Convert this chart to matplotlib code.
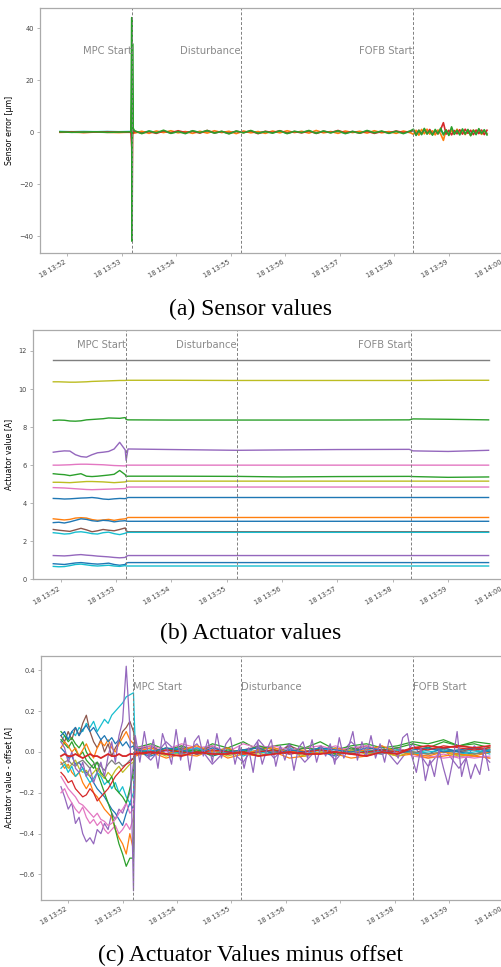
import numpy as np
import pandas as pd
import matplotlib
matplotlib.use("Agg")
import matplotlib.pyplot as plt
import matplotlib.dates as mdates

# time base: seconds after 18 13:51:00
base = pd.Timestamp("2021-06-18 13:51:00")
event_names = ["MPC Start", "Disturbance", "FOFB Start"]
event_sec = [131, 251, 440]

# ---------------- (a) sensor error [um] ----------------
sensor_sec = np.concatenate([np.arange(52, 131, 13), [131.0, 131.4, 131.8, 132.5],
                             np.arange(134, 440, 8), np.arange(441, 525, 3)])

sensor_blue = [0.2, 0.1, 0.2, 0.1, 0.2, 0.1, 0.2,
               2, -5, 1, 0.5,
               0.2, -0.2, 0.3, -0.1, 0.2, -0.3, 0.1, -0.2, 0.3, -0.1, 0.2, -0.2, 0.1, -0.3, 0.2, -0.1, 0.3, -0.2, 0.1, -0.2,
               0.2, -0.3, 0.1, -0.1, 0.3, -0.2, 0.2, -0.1, 0.1, -0.3, 0.2, -0.2, 0.3, -0.1, 0.1, -0.2, 0.2, -0.3, 0.1,
               0.6, -0.7, 0.5, -0.5, 0.8, -0.4, 0.4, -0.7, 0.5, -0.5, 0.7, -0.6, 0.4, -0.8, 0.7, -0.4, 0.5, -0.6, 0.7, -0.5,
               0.4, -0.7, 0.6, -0.5, 0.5, -0.7, 0.4, -0.5]
sensor_orange = [-0.1, 0.0, -0.2, 0.0, -0.1, -0.2, 0.0,
                 10, -15, 5, 0.3,
                 -0.4, 0.3, -0.5, 0.4, -0.2, 0.5, -0.3, 0.2, -0.5, 0.3, -0.4, 0.5, -0.2, 0.3, -0.6, 0.4, -0.3, 0.2, -0.5, 0.4,
                 -0.3, 0.5, -0.2, 0.3, -0.4, 0.6, -0.3, 0.2, -0.5, 0.4, -0.2, 0.3, -0.4, 0.5, -0.3, 0.2, -0.5, 0.4, -0.3,
                 -0.9, 0.7, -1.2, 1.0, -0.7, 1.1, -0.8, 0.5, -1.1, 0.8, -0.7, -3.2, 0.9, -1.0, 0.6, -0.8, 1.1, -0.5, 0.8, -1.0,
                 0.7, -1.3, 0.8, -0.6, 1.0, -0.9, 0.5, -0.7]
sensor_red = [0.0, 0.1, -0.1, 0.0, 0.1, 0.0, -0.1,
              -6, -28, 4, -0.5,
              0.3, -0.4, 0.2, -0.5, 0.4, -0.3, 0.5, -0.2, 0.3, -0.4, 0.6, -0.3, 0.2, -0.5, 0.3, -0.2, 0.4, -0.6, 0.3, -0.2,
              0.5, -0.4, 0.2, -0.3, 0.4, -0.5, 0.3, -0.2, 0.6, -0.3, 0.2, -0.4, 0.3, -0.5, 0.2, -0.3, 0.4, -0.2, 0.3,
              0.8, -1.1, 0.7, -0.8, 1.1, -0.6, 1.0, -0.9, 0.5, -0.7, 1.0, 3.6, -0.8, 0.7, -1.1, 0.6, -0.7, 0.9, -0.8, 1.1,
              -0.5, 0.7, -1.0, 0.8, -0.6, 0.8, -1.0, 0.7]
sensor_green = [0.1, -0.1, 0.0, 0.1, -0.1, 0.0, 0.1,
                44, -42, 34, 1.5,
                0.5, -0.6, 0.4, -0.3, 0.7, -0.5, 0.2, -0.6, 0.5, -0.2, 0.6, -0.4, 0.3, -0.7, 0.4, -0.3, 0.6, -0.5, 0.2, -0.4,
                0.5, -0.6, 0.3, -0.2, 0.6, -0.5, 0.4, -0.3, 0.5, -0.6, 0.2, -0.4, 0.6, -0.3, 0.4, -0.5, 0.3, -0.6, 0.5,
                1.1, -1.3, 0.7, -1.0, 1.4, -0.8, 0.5, -1.2, 1.0, -0.7, 1.5, -1.1, 0.8, -1.3, 2.0, -0.9, 0.7, -1.1, 1.2, -0.8,
                1.0, -1.4, 0.7, -1.0, 1.3, -0.6, 0.9, -1.1]

# ---------------- (b) actuator values [A] ----------------
act_sec = np.concatenate([np.arange(52, 131, 6), [131, 133, 180, 251, 300, 360, 438, 442, 480, 524]])

act_gray = [11.5] * 24
act_olive_hi = [10.38, 10.38, 10.37, 10.36, 10.36, 10.37, 10.38, 10.40, 10.41, 10.42, 10.43, 10.44, 10.45, 10.45,
                10.46, 10.46, 10.46, 10.45, 10.45, 10.45, 10.45, 10.45, 10.46, 10.46]
act_green_hi = [8.35, 8.37, 8.36, 8.32, 8.31, 8.33, 8.38, 8.40, 8.42, 8.44, 8.48, 8.47, 8.46, 8.50,
                8.40, 8.38, 8.37, 8.37, 8.37, 8.37, 8.38, 8.43, 8.41, 8.38]
act_purple_hi = [6.68, 6.72, 6.75, 6.74, 6.55, 6.45, 6.42, 6.55, 6.65, 6.68, 6.72, 6.85, 7.20, 6.80,
                 6.25, 6.85, 6.82, 6.78, 6.80, 6.82, 6.83, 6.75, 6.72, 6.78]
act_pink_hi = [6.00, 6.00, 6.01, 6.02, 6.04, 6.05, 6.05, 6.04, 6.03, 6.02, 6.00, 5.98, 5.97, 5.96,
               6.00, 6.00, 6.00, 6.00, 6.00, 6.00, 6.00, 6.00, 6.00, 6.00]
act_green_lo = [5.55, 5.52, 5.50, 5.45, 5.50, 5.55, 5.42, 5.40, 5.42, 5.45, 5.48, 5.52, 5.72, 5.50,
                5.40, 5.42, 5.42, 5.41, 5.38, 5.40, 5.41, 5.40, 5.36, 5.38]
act_olive_lo = [5.10, 5.10, 5.09, 5.08, 5.10, 5.12, 5.14, 5.14, 5.13, 5.12, 5.10, 5.08, 5.10, 5.12,
                5.15, 5.16, 5.16, 5.16, 5.16, 5.16, 5.16, 5.16, 5.16, 5.16]
act_pink_lo = [4.82, 4.81, 4.80, 4.78, 4.76, 4.74, 4.72, 4.71, 4.72, 4.73, 4.74, 4.75, 4.76, 4.77,
               4.80, 4.85, 4.85, 4.85, 4.85, 4.85, 4.85, 4.85, 4.85, 4.85]
act_blue_4 = [4.25, 4.24, 4.22, 4.23, 4.25, 4.27, 4.28, 4.30, 4.27, 4.22, 4.20, 4.23, 4.25, 4.24,
              4.26, 4.30, 4.30, 4.30, 4.30, 4.30, 4.30, 4.30, 4.30, 4.30]
act_orange_3 = [3.18, 3.15, 3.12, 3.15, 3.22, 3.24, 3.22, 3.14, 3.10, 3.12, 3.15, 3.10, 3.15, 3.18,
                3.20, 3.25, 3.25, 3.25, 3.25, 3.25, 3.25, 3.25, 3.25, 3.25]
act_blue_3 = [2.98, 3.00, 2.96, 3.02, 3.10, 3.18, 3.15, 3.08, 3.05, 3.10, 3.08, 3.02, 3.06, 3.08,
              3.06, 3.05, 3.05, 3.05, 3.05, 3.05, 3.05, 3.05, 3.05, 3.05]
act_brown = [2.62, 2.58, 2.55, 2.52, 2.60, 2.68, 2.60, 2.50, 2.55, 2.62, 2.58, 2.55, 2.62, 2.70,
             2.55, 2.50, 2.50, 2.50, 2.50, 2.50, 2.50, 2.50, 2.50, 2.50]
act_cyan_2 = [2.45, 2.42, 2.38, 2.40, 2.48, 2.50, 2.46, 2.40, 2.38, 2.45, 2.48, 2.40, 2.35, 2.42,
              2.45, 2.47, 2.47, 2.47, 2.47, 2.47, 2.47, 2.47, 2.47, 2.47]
act_purple_lo = [1.25, 1.24, 1.23, 1.25, 1.28, 1.30, 1.27, 1.25, 1.22, 1.20, 1.18, 1.15, 1.13, 1.15,
                 1.20, 1.25, 1.25, 1.25, 1.25, 1.25, 1.25, 1.25, 1.25, 1.25]
act_blue_1 = [0.82, 0.80, 0.78, 0.82, 0.86, 0.88, 0.85, 0.82, 0.80, 0.82, 0.85, 0.78, 0.74, 0.78,
              0.85, 0.88, 0.88, 0.88, 0.88, 0.88, 0.88, 0.88, 0.88, 0.88]
act_cyan_1 = [0.68, 0.66, 0.67, 0.72, 0.78, 0.80, 0.76, 0.72, 0.70, 0.72, 0.74, 0.70, 0.68, 0.72,
              0.70, 0.70, 0.70, 0.70, 0.70, 0.70, 0.70, 0.70, 0.70, 0.70]

# ---------------- (c) actuator values minus offset [A] ----------------
off_sec = np.concatenate([np.arange(52, 133, 4), np.arange(134, 526, 17)])
off_purple_sec = np.concatenate([np.arange(52, 133, 4), np.arange(134, 525, 5)])

off_purple_a = [-0.17, -0.22, -0.28, -0.25, -0.35, -0.32, -0.40, -0.44, -0.42, -0.45, -0.38, -0.40, -0.35, -0.38, -0.30,
                -0.33, -0.28, -0.30, -0.25, -0.20, -0.05,
                0.03, -0.04, 0.05, -0.02, 0.04, -0.06, 0.02, -0.05, 0.06, -0.03, 0.04, -0.05, 0.03, -0.04, 0.05, -0.02,
                0.03, -0.06, 0.04, -0.07, 0.02, -0.08, 0.03, -0.05]
off_cyan = [0.05, 0.08, 0.06, 0.10, 0.08, 0.12, 0.10, 0.14, 0.12, 0.15, 0.10, 0.13, 0.16, 0.14, 0.18, 0.20, 0.22, 0.24,
            0.27, 0.28, 0.29,
            0.02, -0.01, 0.01, 0.02, -0.01, 0.0, 0.02, -0.02, 0.01, 0.0, 0.02, -0.01, 0.01, 0.02, -0.01, 0.01, 0.0, 0.02,
            -0.01, 0.01, 0.02, 0.0, 0.01, -0.01]
off_brown = [0.08, 0.05, 0.10, 0.06, 0.12, 0.08, 0.14, 0.18, 0.10, 0.05, 0.02, 0.06, 0.0, 0.04, -0.02, 0.02, 0.05, 0.10,
             0.12, 0.15, 0.10,
             0.01, 0.03, -0.01, 0.02, 0.0, 0.03, -0.01, 0.01, 0.02, -0.01, 0.03, 0.0, 0.02, -0.01, 0.01, 0.03, 0.0, 0.02,
             -0.01, 0.02, 0.01, 0.0, 0.02, 0.01]
off_green_a = [0.10, 0.08, 0.05, 0.07, 0.04, 0.02, 0.05, 0.0, -0.03, -0.05, -0.10, -0.15, -0.20, -0.25, -0.30, -0.38,
               -0.45, -0.50, -0.56, -0.52, -0.52,
               0.02, 0.04, 0.01, 0.03, 0.0, 0.04, 0.02, 0.05, 0.01, 0.03, 0.04, 0.02, 0.05, 0.01, 0.03, 0.04, 0.02, 0.03,
               0.05, 0.04, 0.06, 0.03, 0.05, 0.04]
off_orange_a = [-0.05, -0.08, -0.06, -0.10, -0.12, -0.10, -0.15, -0.18, -0.15, -0.20, -0.22, -0.25, -0.28, -0.30, -0.32,
                -0.38, -0.42, -0.45, -0.50, -0.40, -0.48,
                -0.02, 0.0, -0.03, -0.01, -0.02, 0.01, -0.03, -0.01, -0.02, 0.0, -0.03, -0.02, 0.0, -0.01, -0.03, -0.02,
                0.0, -0.02, -0.01, -0.03, -0.02, -0.01, -0.02, -0.03]
off_pink_a = [-0.12, -0.15, -0.18, -0.20, -0.22, -0.25, -0.26, -0.28, -0.30, -0.32, -0.30, -0.33, -0.34, -0.36, -0.35,
              -0.33, -0.30, -0.28, -0.25, -0.30, -0.28,
              0.02, 0.03, 0.01, 0.04, 0.02, 0.03, 0.0, 0.04, 0.02, 0.03, 0.01, 0.02, 0.03, 0.01, 0.02, 0.03, 0.01, 0.02,
              -0.01, -0.02, -0.03, -0.02, -0.03, -0.02]
off_blue_a = [0.02, 0.0, -0.03, -0.02, -0.06, -0.05, -0.08, -0.10, -0.12, -0.15, -0.18, -0.20, -0.22, -0.25, -0.28,
              -0.30, -0.33, -0.36, -0.30, -0.25, -0.28,
              0.0, -0.02, 0.01, -0.01, 0.02, -0.02, 0.0, 0.01, -0.02, 0.0, 0.01, -0.01, 0.0, -0.02, 0.01, 0.0, -0.01,
              0.01, 0.0, -0.01, 0.02, 0.0, -0.01, 0.01]
off_blue_b = [0.08, 0.10, 0.06, 0.10, 0.12, 0.08, 0.11, 0.13, 0.10, 0.12, 0.09, 0.06, 0.08, 0.05, 0.07, 0.04, 0.06, 0.03,
              0.05, 0.02, 0.03,
              0.01, 0.0, 0.02, 0.01, -0.01, 0.02, 0.0, 0.01, 0.02, -0.01, 0.01, 0.0, 0.02, 0.01, 0.0, 0.02, 0.01, -0.01,
              0.01, 0.02, 0.0, 0.01, 0.02, 0.0]
off_red_b = [-0.10, -0.12, -0.15, -0.14, -0.18, -0.20, -0.22, -0.21, -0.18, -0.20, -0.24, -0.22, -0.20, -0.18, -0.15,
             -0.12, -0.10, -0.08, -0.06, -0.05, -0.03,
             0.0, -0.01, 0.01, 0.0, -0.01, 0.01, 0.0, -0.01, 0.0, 0.01, -0.01, 0.0, 0.01, 0.0, -0.01, 0.0, 0.01, 0.0,
             0.02, 0.01, 0.03, 0.02, 0.01, 0.02]
off_olive = [-0.03, -0.05, -0.08, -0.06, -0.04, -0.08, -0.10, -0.09, -0.12, -0.10, -0.08, -0.11, -0.13, -0.10, -0.12,
             -0.09, -0.07, -0.10, -0.08, -0.06, -0.05,
             -0.01, 0.01, -0.02, 0.0, -0.01, 0.01, -0.02, 0.0, -0.01, 0.01, 0.0, -0.02, 0.0, -0.01, 0.01, -0.01, 0.0,
             -0.02, 0.0, -0.01, 0.0, -0.02, -0.01, 0.0]
off_green_b = [0.06, 0.04, 0.02, 0.05, 0.01, -0.02, 0.0, -0.04, -0.06, -0.08, -0.05, -0.10, -0.12, -0.15, -0.12, -0.18,
               -0.20, -0.22, -0.25, -0.18, -0.10,
               0.01, -0.01, 0.02, 0.0, 0.01, -0.02, 0.01, 0.0, 0.03, 0.01, 0.0, 0.02, 0.01, -0.01, 0.02, 0.0, 0.01, 0.02,
               0.04, 0.02, 0.05, 0.03, 0.04, 0.02]
off_orange_b = [0.02, 0.05, 0.03, 0.0, 0.02, -0.02, 0.01, 0.04, 0.0, -0.03, 0.02, 0.05, 0.03, 0.06, 0.02, 0.0, 0.04,
                0.07, 0.10, 0.06, 0.04,
                0.0, 0.02, -0.01, 0.01, 0.03, 0.0, 0.02, -0.01, 0.01, 0.02, 0.0, 0.01, -0.01, 0.02, 0.0, 0.01, 0.03, 0.0,
                -0.01, -0.02, 0.0, -0.01, -0.02, 0.0]
off_gray = [-0.06, -0.05, -0.04, -0.06, -0.07, -0.05, -0.04, -0.06, -0.08, -0.06, -0.05, -0.07, -0.09, -0.06, -0.04,
            -0.06, -0.05, -0.07, -0.06, -0.04, -0.03,
            -0.01, 0.0, -0.01, 0.01, -0.01, 0.0, 0.0, -0.01, 0.01, 0.0, -0.01, 0.0, 0.01, -0.01, 0.0, 0.0, -0.01, 0.01,
            0.0, -0.01, 0.0, 0.01, -0.01, 0.0]
off_cyan_b = [-0.08, -0.06, -0.10, -0.07, -0.12, -0.10, -0.08, -0.12, -0.15, -0.13, -0.10, -0.12, -0.16, -0.14, -0.18,
              -0.15, -0.20, -0.17, -0.22, -0.25, -0.20,
              0.0, 0.01, -0.01, 0.0, 0.02, -0.01, 0.0, 0.01, 0.0, -0.01, 0.01, 0.0, 0.02, 0.0, -0.01, 0.01, 0.0, 0.01,
              -0.01, 0.0, 0.01, -0.01, 0.0, 0.01]
off_pink_b = [-0.20, -0.18, -0.22, -0.25, -0.28, -0.30, -0.27, -0.32, -0.35, -0.33, -0.36, -0.34, -0.38, -0.40, -0.38,
              -0.36, -0.40, -0.38, -0.35, -0.38, -0.32,
              0.01, 0.02, 0.0, 0.03, 0.01, 0.02, 0.0, 0.01, 0.03, 0.02, 0.0, 0.02, 0.01, 0.03, 0.0, 0.02, 0.01, 0.02,
              -0.02, -0.03, -0.01, -0.03, -0.02, -0.03]
off_red_a = [-0.02, -0.01, -0.02, -0.02, -0.01, -0.02, -0.03, -0.02, -0.01, -0.02, -0.02, -0.03, -0.02, -0.01, -0.02,
             -0.02, -0.01, -0.02, -0.02, -0.01, -0.01,
             -0.01, 0.0, -0.01, -0.02, 0.0, -0.01, -0.01, 0.0, -0.02, -0.01, 0.0, -0.01, -0.01, 0.0, -0.01, -0.02, 0.0,
             -0.01, 0.02, 0.03, 0.02, 0.03, 0.02, 0.03]
off_purple_b = [0.05, 0.02, -0.05, 0.0, -0.08, -0.10, -0.05, -0.12, -0.08, -0.15, -0.10, -0.05, -0.12, -0.02, 0.05,
                -0.05, 0.08, 0.15, 0.42, 0.12, -0.68,
                0.08, -0.05, 0.10, -0.03, 0.06, -0.08, 0.09, 0.02, -0.06, 0.11, -0.04, 0.07, -0.09, 0.05, 0.08, -0.02,
                0.06, -0.05, 0.09, -0.03, 0.04, 0.07, -0.06, 0.03,
                -0.08, 0.02, -0.10, 0.05, -0.06, 0.01, 0.06, -0.07, 0.03, -0.04, 0.04, -0.09, 0.02, 0.05, -0.03, 0.06,
                -0.05, 0.03, -0.02, 0.04, -0.06, 0.07, -0.03, 0.02, 0.10, -0.04, 0.05, -0.02, 0.08, -0.03, 0.04, -0.05,
                0.06, 0.01, -0.03, 0.07, 0.09, -0.02,
                -0.10, 0.02, -0.14, -0.04, -0.12, 0.01, -0.08, -0.16, -0.05, 0.10, -0.12, -0.03, -0.13, -0.06, -0.11,
                0.02, -0.09]


def to_time(sec):
    return base + pd.to_timedelta(np.asarray(sec, dtype=float), unit="s")


tab = {"blue": "#1f77b4", "orange": "#ff7f0e", "green": "#2ca02c", "red": "#d62728", "purple": "#9467bd",
       "brown": "#8c564b", "pink": "#e377c2", "gray": "#7f7f7f", "olive": "#bcbd22", "cyan": "#17becf"}

fig = plt.figure(figsize=(5.02, 9.67), dpi=100)
ax_a = fig.add_axes([0.0797, 0.7384, 0.923, 0.2533])
ax_b = fig.add_axes([0.0657, 0.4009, 0.937, 0.2578])
ax_c = fig.add_axes([0.0817, 0.0693, 0.921, 0.2523])

# (a)
ta = to_time(sensor_sec)
for vals, col in [(sensor_blue, "cyan"), (sensor_orange, "orange"), (sensor_red, "red"), (sensor_green, "green")]:
    ax_a.plot(ta, vals, color=tab[col], lw=1.2)
ax_a.set_ylim(-46.5, 47.7)
ax_a.set_yticks([-40, -20, 0, 20, 40])
ax_a.set_ylabel("Sensor error [µm]", fontsize=5.6, labelpad=4)

# (b)
tb = to_time(act_sec)
act_series = [(act_gray, "gray"), (act_olive_hi, "olive"), (act_green_hi, "green"), (act_purple_hi, "purple"),
              (act_pink_hi, "pink"), (act_green_lo, "green"), (act_olive_lo, "olive"), (act_pink_lo, "pink"),
              (act_blue_4, "blue"), (act_orange_3, "orange"), (act_blue_3, "blue"), (act_brown, "brown"),
              (act_cyan_2, "cyan"), (act_purple_lo, "purple"), (act_blue_1, "blue"), (act_cyan_1, "cyan")]
for vals, col in act_series:
    ax_b.plot(tb, vals, color=tab[col], lw=1.0)
ax_b.set_ylim(0, 13.1)
ax_b.set_yticks([0, 2, 4, 6, 8, 10, 12])
ax_b.set_ylabel("Actuator value [A]", fontsize=5.6, labelpad=4)

# (c)
tc = to_time(off_sec)
off_series = [(off_purple_a, "purple"), (off_pink_b, "pink"), (off_cyan, "cyan"), (off_brown, "brown"),
              (off_blue_a, "blue"), (off_orange_a, "orange"), (off_green_a, "green"), (off_pink_a, "pink"),
              (off_olive, "olive"), (off_gray, "gray"), (off_cyan_b, "cyan"), (off_green_b, "green"),
              (off_orange_b, "orange"), (off_blue_b, "blue"), (off_red_b, "red")]
for vals, col in off_series:
    ax_c.plot(tc, vals, color=tab[col], lw=0.9)
ax_c.plot(to_time(off_purple_sec), off_purple_b, color=tab["purple"], lw=0.9)
ax_c.plot(tc, off_red_a, color=tab["red"], lw=1.3)
ax_c.set_ylim(-0.725, 0.47)
ax_c.set_yticks([-0.6, -0.4, -0.2, 0.0, 0.2, 0.4])
ax_c.set_ylabel("Actuator value - offset [A]", fontsize=5.6, labelpad=4)

# events, axes styling
text_y = {ax_a: 31, ax_b: 12.33, ax_c: 0.32}
for ax in [ax_a, ax_b, ax_c]:
    for name, sec in zip(event_names, event_sec):
        t = to_time([sec])[0]
        ax.axvline(t, color="#808080", ls="--", lw=0.7, dashes=(3, 2))
        if ax is ax_c:
            ax.text(t, text_y[ax], name, ha="left", va="center", fontsize=7.2, color="#8a8a8a")
        else:
            ax.text(t, text_y[ax], name, ha="right", va="center", fontsize=7.2, color="#8a8a8a")
    ax.set_xlim(to_time([30])[0], to_time([540])[0])
    ax.xaxis.set_major_locator(mdates.MinuteLocator())
    ax.xaxis.set_major_formatter(mdates.DateFormatter("%d %H:%M"))
    for lab in ax.get_xticklabels():
        lab.set_rotation(30)
        lab.set_ha("right")
    ax.tick_params(labelsize=4.8, colors="#444444", length=2.5, width=0.6, pad=2)
    ax.tick_params(axis="both", color="#aaaaaa")
    for sp in ax.spines.values():
        sp.set_color("#aaaaaa")
        sp.set_linewidth(0.9)

# sub-captions
fig.text(0.5, 1 - 309 / 967, "(a) Sensor values", ha="center", va="center", fontsize=17, family="Liberation Serif")
fig.text(0.5, 1 - 633 / 967, "(b) Actuator values", ha="center", va="center", fontsize=17, family="Liberation Serif")
fig.text(0.5, 1 - 955 / 967, "(c) Actuator Values minus offset", ha="center", va="center", fontsize=17,
         family="Liberation Serif")

fig.savefig("out.png", dpi=100)
